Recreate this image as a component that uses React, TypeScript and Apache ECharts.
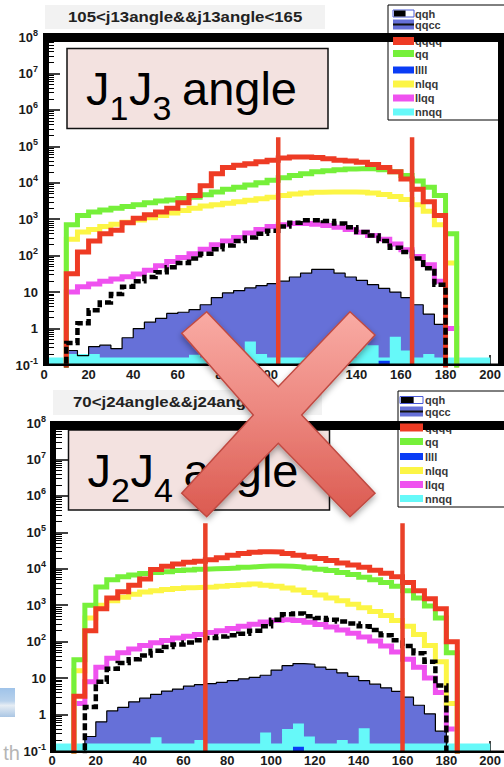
import React, { useEffect, useRef } from "react";
import * as echarts from "echarts";

const FONT = "'Liberation Sans', Arial, Helvetica, sans-serif";

// Lower edges of the 5-degree angle bins; the last bin closes at X_MAX.
const BIN_LOW = [0, 5, 10, 15, 20, 25, 30, 35, 40, 45, 50, 55, 60, 65, 70, 75, 80, 85, 90, 95,
  100, 105, 110, 115, 120, 125, 130, 135, 140, 145, 150, 155, 160, 165, 170, 175, 180, 185, 190, 195];
const X_MAX = 200;

// ---- upper panel: J1J3 angle (selection 105 < j13angle < 165) ----
const j13_qqh = [0, 0, 0.4, 1.4, 3.2, 5.2, 8.9, 14, 20, 26, 35, 48, 63, 83, 112, 151, 191, 251, 316, 398,
  479, 631, 794, 933, 933, 891, 759, 603, 447, 355, 251, 166, 126, 83, 45, 16, 0, 0, 0, 0];
const j13_qqcc = [0, 0, 0.25, 0.18, 0.32, 0.35, 0.28, 0.56, 1.0, 1.5, 1.9, 2.6, 2.8, 3.3, 4.5, 7.1, 9.5, 11, 13, 15,
  17, 20, 26, 33, 42, 42, 33, 26, 21, 16, 12.6, 10, 7.1, 4.5, 2.5, 1.3, 0, 0, 0, 0];
const j13_qqqq = [0, 0, 32, 126, 251, 398, 501, 794, 1070, 1320, 1580, 2000, 2820, 4470, 8320, 17800, 26300, 30200, 33100, 38000,
  41700, 47900, 51300, 51300, 49000, 45700, 41700, 39800, 36300, 31600, 26300, 20000, 12600, 6610, 3020, 1260, 0, 0, 0, 0];
const j13_qq = [0, 0, 708, 1260, 1580, 1780, 2000, 2240, 2510, 2820, 3160, 3390, 3720, 3980, 4680, 5620, 6610, 7590, 8710, 10000,
  11700, 13800, 15800, 17800, 20000, 21400, 22900, 24000, 24500, 24000, 22900, 20000, 15800, 11200, 7590, 4470, 400, 0, 0, 0];
const j13_nlqq = [0, 0, 282, 447, 525, 631, 724, 832, 955, 1100, 1260, 1480, 1740, 2000, 2290, 2510, 2750, 3020, 3310, 3630,
  3980, 4470, 4900, 5250, 5500, 5620, 5620, 5620, 5500, 5250, 4790, 4170, 3470, 2510, 1660, 708, 63, 0, 0, 0];
const j13_llqq = [0, 0, 10, 14, 16.6, 20, 22.9, 26.3, 31.6, 39.8, 52.5, 69, 89, 112, 151, 200, 251, 316, 417, 525,
  631, 708, 759, 759, 724, 676, 603, 525, 437, 355, 282, 209, 145, 95, 56, 20, 1, 0, 0, 0];
const j13_llll = [0, 0, 0, 0, 0, 0, 0, 0, 0, 0, 0, 0, 0, 0, 0, 0, 0, 0, 0, 0,
  0, 0, 0, 0, 0, 0, 0, 0, 0, 0, 0.13, 0, 0, 0, 0, 0, 0, 0, 0, 0];
const j13_nnqq = [0.16, 0.16, 0.2, 0.2, 0.2, 0.16, 0.16, 0.16, 0.16, 0.16, 0.16, 0.16, 0.16, 0.19, 0.16, 0.16, 0.16, 0.16, 0.44, 0.2,
  0.16, 0.16, 0.16, 0.16, 0.16, 0.16, 0.16, 0.16, 0.6, 0.35, 0.16, 0.6, 0.25, 0.16, 0.2, 0.16, 0.16, 0.16, 0.16, 0.16];
const J13_CUTS = [105, 165];

// ---- lower panel: J2J4 angle (selection 70 < j24angle < 160) ----
const j24_qqh = [0, 0, 0, 1.6, 7.9, 18, 26, 33, 42, 56, 71, 83, 95, 110, 126, 138, 151, 166, 200, 263,
  398, 562, 589, 501, 447, 398, 355, 316, 263, 209, 151, 110, 76, 48, 28, 6.3, 0, 0, 0, 0];
const j24_qqcc = [0, 0, 0, 0.25, 0.63, 1.26, 1.58, 2.24, 2.82, 3.6, 4.4, 5.0, 6.0, 6.6, 7.1, 7.6, 8.5, 9.5, 10.5, 12,
  16.6, 22, 25, 24, 20, 17.4, 14, 11.2, 8.5, 6.8, 5.4, 4.3, 3.0, 1.8, 1.05, 0.35, 0, 0, 0, 0];
const j24_qqqq = [0, 0, 3.2, 200, 794, 1580, 2340, 3550, 5250, 9550, 11700, 13500, 15100, 16200, 17800, 20000, 23400, 26300, 28200, 29500,
  28800, 26300, 23400, 21400, 19100, 17000, 14500, 12600, 11000, 9120, 7590, 6030, 4170, 2510, 1510, 794, 100, 0, 0, 0];
const j24_qq = [0, 0, 32, 1000, 3160, 5010, 6030, 6760, 7410, 7940, 8320, 8910, 9330, 9770, 10000, 10200, 10500, 11000, 11500, 12000,
  12000, 11700, 11200, 10500, 9770, 8910, 7940, 6920, 5890, 5010, 4170, 3310, 2510, 1580, 955, 447, 50, 0, 0, 0];
const j24_nlqq = [0, 0, 16, 447, 1000, 1320, 1660, 2000, 2290, 2510, 2690, 2880, 3020, 3090, 3160, 3310, 3470, 3630, 3800, 3550,
  3310, 2950, 2630, 2240, 1910, 1580, 1320, 1070, 851, 676, 525, 380, 263, 158, 79, 28, 2, 0, 0, 0];
const j24_llqq = [0, 0, 2, 7.9, 20, 35, 50, 63, 79, 93, 107, 126, 141, 158, 178, 200, 229, 263, 302, 347,
  380, 398, 380, 339, 295, 251, 209, 170, 135, 105, 76, 52, 33, 20, 10, 4, 0.4, 0, 0, 0];
const j24_llll = [0, 0, 0, 0, 0, 0, 0, 0, 0, 0, 0, 0, 0, 0, 0, 0, 0, 0, 0, 0,
  0, 0, 0.13, 0, 0, 0, 0, 0, 0, 0, 0, 0, 0, 0, 0, 0, 0, 0, 0, 0];
const j24_nnqq = [0.16, 0.16, 0.16, 0.16, 0.16, 0.16, 0.16, 0.16, 0.16, 0.24, 0.16, 0.16, 0.16, 0.2, 0.16, 0.16, 0.16, 0.16, 0.16, 0.32,
  0.16, 0.4, 0.57, 0.25, 0.16, 0.16, 0.2, 0.16, 0.42, 0.16, 0.16, 0.16, 0.16, 0.16, 0.16, 0.16, 0.16, 0.16, 0.16, 0.16];
const J24_CUTS = [70, 160];

// height reached by the vertical cut markers
const CUT_TOP = 178000;
// empty bins are parked below the axis floor so the outline drops out of view
const EMPTY = 0.01;

const LEGEND_NAMES = ["qqh", "qqcc", "qqqq", "qq", "llll", "nlqq", "llqq", "nnqq"];
const COLORS: Record<string, string> = {
  qqh: "#000000",
  qqcc: "#6670d8",
  qqqq: "#ee3b24",
  qq: "#76f03a",
  llll: "#0a3cf5",
  nlqq: "#fcf545",
  llqq: "#ef52ef",
  nnqq: "#66f9f9",
};
const CUT_RED = "#ea4129";

function stepPoints(values: number[]) {
  const pts = values.map((v, i) => [BIN_LOW[i], v > 0 ? v : EMPTY]);
  pts.push([X_MAX, pts[pts.length - 1][1]]);
  return pts;
}

type PanelHists = {
  qqh: number[]; qqcc: number[]; qqqq: number[]; qq: number[];
  llll: number[]; nlqq: number[]; llqq: number[]; nnqq: number[];
};

function panelSeries(idx: number, h: PanelHists, cuts: number[]) {
  const base = {
    type: "line", xAxisIndex: idx, yAxisIndex: idx, step: "end", symbol: "none",
    showSymbol: false, silent: true, clip: true, animation: false,
  };
  const thick = (name: string, data: number[]) => ({
    ...base, name, data: stepPoints(data),
    lineStyle: { color: COLORS[name], width: 5, join: "miter", cap: "butt" },
  });
  const filled = (name: string, data: number[], edge: any) => ({
    ...base, name, data: stepPoints(data), lineStyle: edge,
    areaStyle: { color: COLORS[name], opacity: 1, origin: "start" },
  });
  return [
    filled("qqcc", h.qqcc, { color: "#000", width: 1.2 }),
    filled("nnqq", h.nnqq, { width: 0, opacity: 0 }),
    filled("llll", h.llll, { width: 0, opacity: 0 }),
    thick("llqq", h.llqq),
    thick("nlqq", h.nlqq),
    thick("qq", h.qq),
    thick("qqqq", h.qqqq),
    {
      ...base, name: "qqh", data: stepPoints(h.qqh),
      lineStyle: { color: "#000", width: 4.5, type: [7, 3], join: "miter", cap: "butt" },
    },
    ...cuts.map((c) => ({
      type: "line", xAxisIndex: idx, yAxisIndex: idx, symbol: "none", silent: true,
      data: [[c, 0.1], [c, CUT_TOP]],
      lineStyle: { color: CUT_RED, width: 4.5 },
    })),
  ];
}

function logLabel(v: number) {
  const e = Math.round(Math.log10(v));
  if (e === 0) return "{b|1}";
  if (e === 1) return "{b|10}";
  return `{b|10}{s|${e}}`;
}

function xAxisCfg(gridIndex: number) {
  return {
    type: "value", gridIndex, min: 0, max: X_MAX, interval: 20,
    axisLine: { show: false },
    axisTick: { show: true, inside: true, length: 10, lineStyle: { color: "#000", width: 1.5 } },
    minorTick: { show: true, splitNumber: 4, length: 5, lineStyle: { color: "#000", width: 1 } },
    splitLine: { show: false },
    axisLabel: { fontSize: 13, fontWeight: "bold", color: "#1a1a1a", fontFamily: FONT, margin: 3 },
  };
}

function yAxisCfg(gridIndex: number) {
  return {
    type: "log", logBase: 10, gridIndex, min: 0.1, max: 1e8, splitNumber: 9,
    axisLine: { show: false },
    axisTick: { show: true, inside: true, length: 16, lineStyle: { color: "#000", width: 1.5 } },
    minorTick: { show: true, splitNumber: 9, length: 10, lineStyle: { color: "#000", width: 1 } },
    splitLine: { show: false },
    axisLabel: {
      margin: 6,
      formatter: logLabel,
      rich: {
        b: { fontSize: 13, fontWeight: "bold", color: "#1a1a1a", fontFamily: FONT, lineHeight: 18 },
        s: { fontSize: 9, fontWeight: "bold", color: "#1a1a1a", fontFamily: FONT, lineHeight: 9, verticalAlign: "top" },
      },
    },
  };
}

function swatch(name: string, x: number, w: number, cy: number): any[] {
  if (name === "qqh") {
    return [
      { type: "rect", shape: { x, y: cy - 3.5, width: w, height: 7 }, style: { fill: "#fff", stroke: "#4a5ad8", lineWidth: 1 }, z: 21 },
      { type: "rect", shape: { x: x + 1, y: cy - 3, width: w * 0.55, height: 6 }, style: { fill: "#000" }, z: 22 },
    ];
  }
  if (name === "qqcc") {
    return [
      { type: "rect", shape: { x, y: cy - 5, width: w, height: 10 }, style: { fill: COLORS.qqcc }, z: 21 },
      { type: "rect", shape: { x, y: cy - 1, width: w, height: 2 }, style: { fill: "#111" }, z: 22 },
    ];
  }
  const hgt = name === "qqqq" ? 8 : 7;
  return [{ type: "rect", shape: { x, y: cy - hgt / 2, width: w, height: hgt }, style: { fill: COLORS[name] }, z: 21 }];
}

function legendGraphics(bx: number, by: number, bw: number, bh: number, swX: number, swW: number, txtX: number, rows: number[]) {
  const els: any[] = [
    { type: "rect", shape: { x: bx, y: by, width: bw, height: bh }, style: { fill: "#fff", stroke: "#000", lineWidth: 1 }, z: 10 },
  ];
  LEGEND_NAMES.forEach((name, i) => {
    els.push({
      type: "text", x: txtX, y: rows[i],
      style: { text: name, fontSize: 11, fontWeight: "bold", fill: "#383838", fontFamily: FONT, align: "left", verticalAlign: "middle" },
      z: 11,
    });
    els.push(...swatch(name, swX, swW, rows[i]));
  });
  return els;
}

function angleBox(dx: number, dy: number, a: string, b: string) {
  const big = { fontSize: 47, fill: "#000", fontFamily: FONT, align: "left", verticalAlign: "middle" };
  const sub = { fontSize: 34, fill: "#000", fontFamily: FONT, align: "left", verticalAlign: "middle" };
  return [
    { type: "rect", shape: { x: 67 + dx, y: 48.5 + dy, width: 261, height: 80 }, style: { fill: "#f3e2e0", stroke: "#111", lineWidth: 1.5 }, z: 10 },
    { type: "text", x: 86 + dx, y: 88.7 + dy, style: { ...big, text: "J" }, z: 11 },
    { type: "text", x: 109.5 + dx, y: 108 + dy, style: { ...sub, text: a }, z: 11 },
    { type: "text", x: 129 + dx, y: 88.7 + dy, style: { ...big, text: "J" }, z: 11 },
    { type: "text", x: 152.5 + dx, y: 108 + dy, style: { ...sub, text: b }, z: 11 },
    { type: "text", x: 182 + dx, y: 88.7 + dy, style: { ...big, text: "angle" }, z: 11 },
  ];
}

function titleBox(x: number, y: number, w: number, h: number, tx: number, text: string) {
  return [
    { type: "rect", shape: { x, y, width: w, height: h }, style: { fill: "#f2f2f2" }, z: 10 },
    {
      type: "text", x: tx, y: y + h / 2, scaleX: 1.2,
      style: { text, fontSize: 14, fontWeight: "bold", fill: "#222", fontFamily: FONT, align: "left", verticalAlign: "middle" },
      z: 11,
    },
  ];
}

function frame(x0: number, top: number, bottom: number, right: number, withRight: boolean) {
  const els: any[] = [
    { type: "rect", shape: { x: x0, y: top, width: 504 - x0, height: 9 }, style: { fill: "#000" }, z: 20 },
    { type: "rect", shape: { x: x0, y: top, width: 6, height: bottom - top + 1 }, style: { fill: "#000" }, z: 20 },
    { type: "rect", shape: { x: x0, y: bottom - 1.5, width: 504 - x0, height: 2.5 }, style: { fill: "#000" }, z: 20 },
  ];
  if (withRight) {
    els.push({ type: "rect", shape: { x: right, y: top, width: 6, height: bottom - top + 1 }, style: { fill: "#000" }, z: 20 });
  }
  return els;
}

const CROSS_POINTS = [
  [181.7, 333.3], [206.7, 311.7], [278.3, 386.7], [350, 311.7], [375, 335], [301.7, 415],
  [375, 493.3], [350, 516.7], [278.3, 443.3], [206.7, 516.7], [181.7, 493.3], [253.3, 415],
];

export default function App() {
  const ref = useRef<HTMLDivElement>(null);

  useEffect(() => {
    if (!ref.current) return;
    const chart = echarts.init(ref.current, undefined, { renderer: "svg" });

    const top: PanelHists = {
      qqh: j13_qqh, qqcc: j13_qqcc, qqqq: j13_qqqq, qq: j13_qq,
      llll: j13_llll, nlqq: j13_nlqq, llqq: j13_llqq, nnqq: j13_nnqq,
    };
    const bottom: PanelHists = {
      qqh: j24_qqh, qqcc: j24_qqcc, qqqq: j24_qqqq, qq: j24_qq,
      llll: j24_llll, nlqq: j24_nlqq, llqq: j24_llqq, nnqq: j24_nnqq,
    };

    const graphics: any[] = [
      // fragments of the surrounding slide
      {
        type: "rect", shape: { x: 0, y: 688, width: 15, height: 29 },
        style: {
          fill: new echarts.graphic.LinearGradient(0, 0, 0, 1, [
            { offset: 0, color: "#9fc3e9" }, { offset: 0.45, color: "#b9d2ec" },
            { offset: 0.6, color: "#e6edf4" }, { offset: 1, color: "#aac6e4" },
          ]),
        },
        z: 5,
      },
      {
        type: "text", x: 20, y: 753,
        style: { text: "th", fontSize: 20, fill: "#b5b5b5", fontFamily: FONT, align: "right", verticalAlign: "middle" },
        z: 5,
      },
      ...titleBox(45, 5, 280, 24, 68, "105<j13angle&&j13angle<165"),
      ...titleBox(53, 390, 269, 25, 73, "70<j24angle&&j24angle<160"),
      ...legendGraphics(388, 5, 130, 115, 393, 21, 415, [13.5, 24.5, 41, 53.5, 70, 84, 98, 112]),
      ...legendGraphics(398, 391, 120, 116, 400, 23, 425, [400, 411.5, 427.5, 441.5, 456.5, 470.5, 484.5, 498.5]),
      ...angleBox(0, 0, "1", "3"),
      ...angleBox(1.5, 381.5, "2", "4"),
      ...frame(43, 33, 365, 498, true),
      ...frame(50, 421, 752, 504, false),
      {
        type: "polygon",
        shape: { points: CROSS_POINTS },
        style: {
          fill: new echarts.graphic.LinearGradient(0, 0, 0, 1, [
            { offset: 0, color: "#f9aba4" }, { offset: 0.5, color: "#ec867e" }, { offset: 1, color: "#db5a50" },
          ]),
          stroke: "#c04a42", lineWidth: 1.5,
          shadowBlur: 6, shadowColor: "rgba(0,0,0,0.35)", shadowOffsetY: 3,
        },
        z: 50,
      },
    ];

    chart.setOption({
      animation: false,
      backgroundColor: "#ffffff",
      grid: [
        { left: 44, top: 37, width: 456, height: 328 },
        { left: 52, top: 423, width: 456, height: 329 },
      ],
      xAxis: [xAxisCfg(0), xAxisCfg(1)],
      yAxis: [yAxisCfg(0), yAxisCfg(1)],
      series: [...panelSeries(0, top, J13_CUTS), ...panelSeries(1, bottom, J24_CUTS)],
      graphic: { elements: graphics },
    });

    return () => chart.dispose();
  }, []);

  return (
    <div
      ref={ref}
      style={{ position: "absolute", left: 0, top: 0, width: 504, height: 767, overflow: "hidden" }}
    />
  );
}
